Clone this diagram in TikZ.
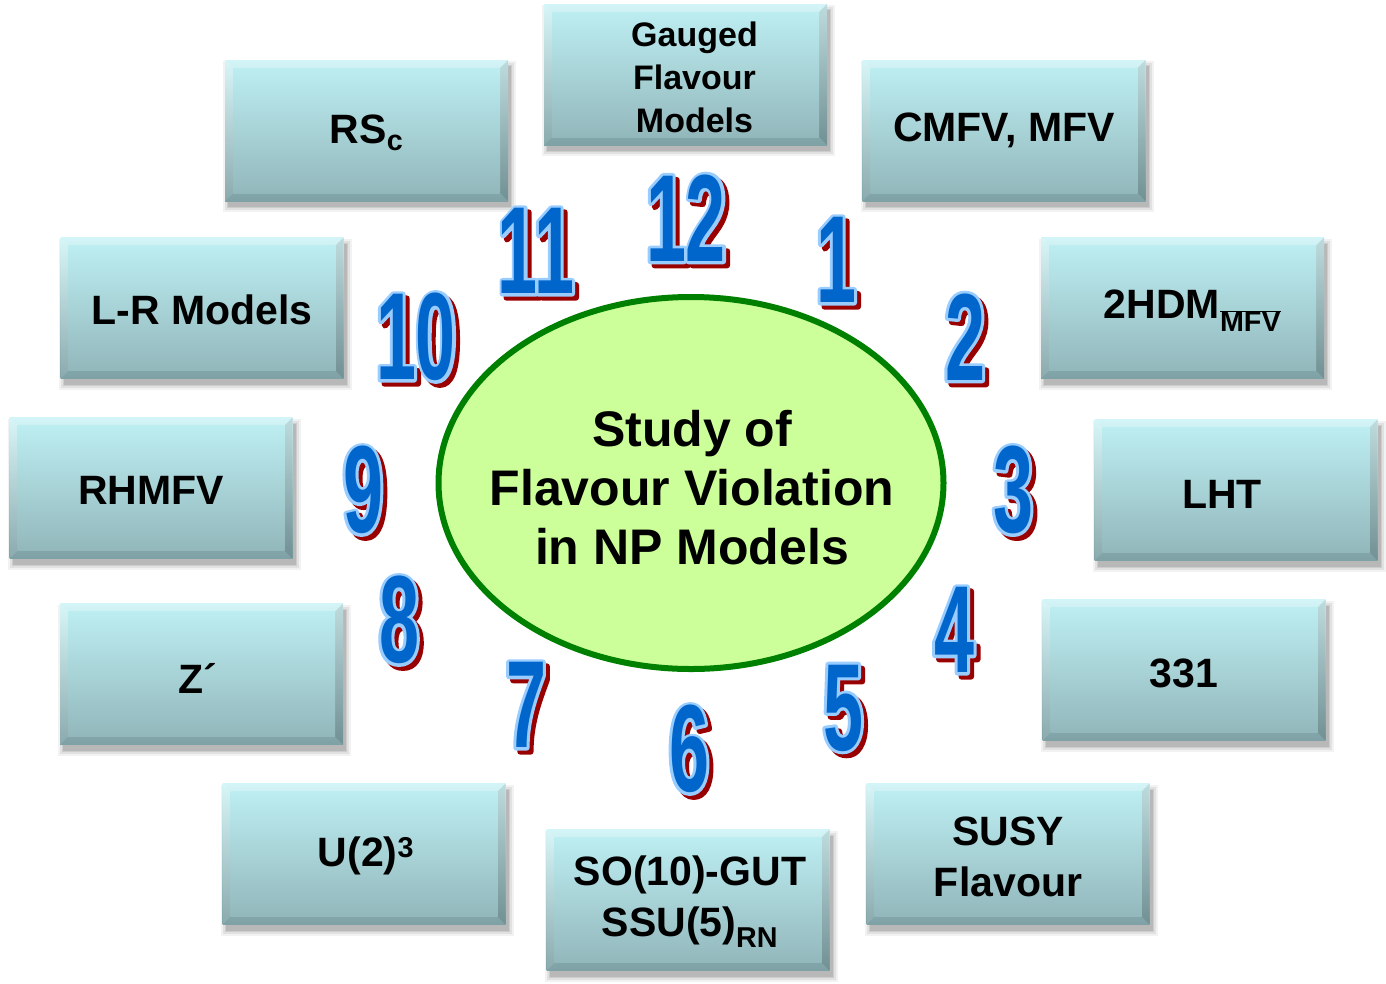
\documentclass[tikz,border=0pt]{standalone}
\usepackage{fontspec}
\setmainfont{Liberation Sans}
\newfontfamily\numfont[FakeStretch=0.58]{Liberation Sans Bold}
\usetikzlibrary{shapes.geometric,calc}
\definecolor{bevtop}{HTML}{D4F5F7}
\definecolor{bevbot}{HTML}{7EA1A5}
\definecolor{boxtop}{HTML}{BCEDF1}
\definecolor{boxbot}{HTML}{93B8BC}
\definecolor{ellfill}{HTML}{CCFF99}
\definecolor{ellline}{HTML}{008000}
\definecolor{numblue}{HTML}{0066CC}
\definecolor{numedge}{HTML}{99CCFF}
\definecolor{numshadow}{HTML}{990000}
\tikzset{
  face/.style={minimum width=267pt, minimum height=125pt, inner sep=0pt, top color=boxtop, bottom color=boxbot},
  boxtext/.style={inner sep=0pt, align=center, text=black, font=\bfseries\fontsize{41}{51}\selectfont},
  smalltext/.style={boxtext, font=\bfseries\fontsize{34}{43}\selectfont},
  numtxt/.style={inner sep=0pt, font=\numfont\fontsize{124}{124}\selectfont},
  bigtext/.style={inner sep=0pt, align=center, text=black, font=\bfseries\fontsize{50}{59}\selectfont},
}
% #1 text style, #2 name, #3 centre, #4 text offset, #5 text
\newcommand\modelbox[5][boxtext]{%
  \coordinate (#2-c) at #3;
  \foreach \e/\op in {5/0.05,3/0.07,1/0.09,0/0.10}{
    \fill[black,opacity=\op] ($(#2-c)+(-141.5-\e+3,-70.5-\e+6)$) rectangle ($(#2-c)+(141.5+\e+3,70.5+\e+6)$);
  }
  \shade[top color=bevtop,bottom color=bevbot] ($(#2-c)+(-141.5,-70.5)$) rectangle ($(#2-c)+(141.5,70.5)$);
  \fill[white,opacity=0.10] ($(#2-c)+(-141.5,-70.5)$) -- ($(#2-c)+(-133.5,-62.5)$) -- ($(#2-c)+(-133.5,62.5)$) -- ($(#2-c)+(-141.5,70.5)$) -- cycle;
  \fill[black,opacity=0.10] ($(#2-c)+(141.5,-70.5)$) -- ($(#2-c)+(133.5,-62.5)$) -- ($(#2-c)+(133.5,62.5)$) -- ($(#2-c)+(141.5,70.5)$) -- cycle;
  \node[face] (#2) at (#2-c) {};
  \node[#1] (#2-t) at ($(#2-c)+(#4)$) {#5};
}
% text that is filled and stroked in its own colour: #1 width, #2 text
\newcommand\strokedtext[2]{%
  \special{pdf:literal 2 Tr #1 w 1 j}#2\special{pdf:literal 0 Tr 0.4 w 0 j}}
% #1 name, #2 centre, #3 text
\newcommand\clocknum[3]{%
  \coordinate (#1-c) at #2;
  \node[numtxt,text=numshadow] (#1-s) at ($(#1-c)+(4,4)$) {\strokedtext{6}{#3}};
  \node[numtxt,text=numedge] (#1-e) at (#1-c) {\strokedtext{6}{#3}};
  \node[numtxt,text=numblue] (#1) at (#1-c) {#3};
}
\begin{document}
\begin{tikzpicture}[x=1pt,y=-1pt]
\useasboundingbox (0,0) rectangle (1386,983);
% centre ellipse
\node[ellipse, draw=ellline, line width=6pt, fill=ellfill, minimum width=505pt, minimum height=372pt, inner sep=0pt] (centre) at (691,483) {};
\node[bigtext] (centretext) at (692,488) {Study of\\Flavour Violation\\in NP Models};
% boxes
\modelbox[smalltext]{gauged}{(685.5,74.5)}{9,3}{Gauged\\Flavour\\Models}
\modelbox{rsc}{(366.5,130.5)}{0,2}{RS\textsubscript{c}}
\modelbox{cmfv}{(1004,130.5)}{0,0}{CMFV, MFV}
\modelbox{lr}{(202,308)}{0,2}{L-R Models}
\modelbox{thdm}{(1182.5,308)}{10,3}{2HDM\textsubscript{$\overline{\mbox{MFV}}$}}
\modelbox{rhmfv}{(151,488)}{0,2}{RHMFV}
\modelbox{lht}{(1236,490)}{-14,4}{LHT}
\modelbox{zp}{(201.5,674)}{-4,4}{Z´}
\modelbox{tto}{(1184,670)}{0,3}{331}
\modelbox{utwo}{(364,854)}{2,2}{U(2)\textsuperscript{3}}
\modelbox{gut}{(688,900)}{2,2}{SO(10)-GUT\\SSU(5)\textsubscript{RN}}
\modelbox{susy}{(1008,854)}{0,3}{SUSY\\Flavour}
% clock numbers
\clocknum{n12}{(686,218)}{12}
\clocknum{n1}{(836,260)}{1}
\clocknum{n2}{(965,337)}{2}
\clocknum{n3}{(1013,490)}{3}
\clocknum{n4}{(954,630)}{4}
\clocknum{n5}{(843,708)}{5}
\clocknum{n6}{(689,749)}{6}
\clocknum{n7}{(526,705)}{7}
\clocknum{n8}{(399,620)}{8}
\clocknum{n9}{(363,490)}{9}
\clocknum{n10}{(416,337)}{10}
\clocknum{n11}{(536,251)}{11}
\end{tikzpicture}
\end{document}
